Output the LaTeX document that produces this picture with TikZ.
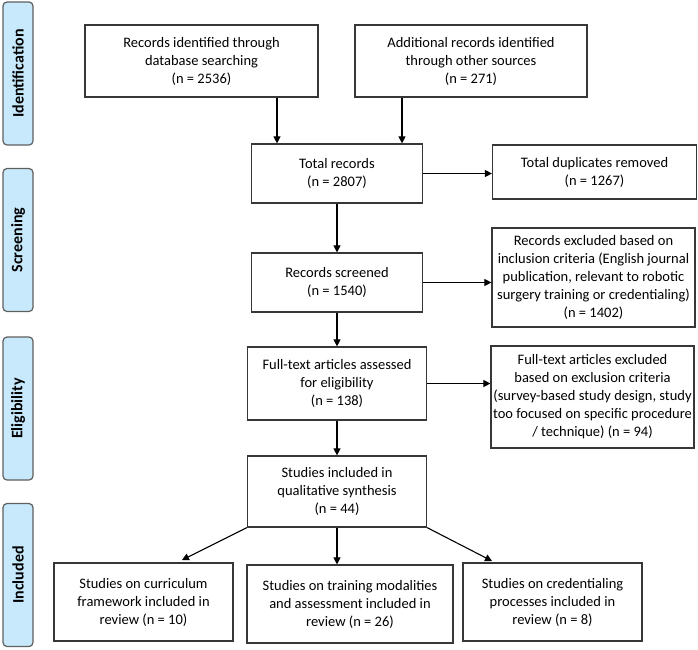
\documentclass[tikz,border=0pt]{standalone}
\usepackage{fontspec}
\setmainfont{Carlito}
\usepackage{xcolor}
\usetikzlibrary{arrows.meta}

\definecolor{phasefill}{RGB}{199,233,251}
\definecolor{boxline}{RGB}{55,55,55}

\tikzset{
	flowbox/.style={draw=boxline, line width=1.2pt, align=center, inner sep=2pt,
		font=\fontsize{14.5}{18}\selectfont},
	phase/.style={draw=boxline!80, fill=phasefill, line width=1.2pt, rounded corners=4pt,
		rotate=90, minimum width=143pt, minimum height=30pt, inner sep=0pt,
		font=\bfseries\fontsize{16}{18}\selectfont},
}

\begin{document}
\begin{tikzpicture}[x=1pt,y=-1pt]
		\useasboundingbox (0,0) rectangle (698,649);
		% phases
		\node[phase] (P1) at (18,73.5) {Identification};
		\node[phase] (P2) at (18,240) {Screening};
		\node[phase] (P3) at (18,408.5) {Eligibility};
		\node[phase] (P4) at (18,575) {Included};
		%
		\node[flowbox, minimum width=233pt, minimum height=72pt] (id1) at (201.5,61)
			{Records identified through\\database searching\\(n = 2536)};
		\node[flowbox, minimum width=232pt, minimum height=72pt] (id2) at (471,61)
			{Additional records identified\\through other sources\\(n = 271)};
		\node[flowbox, minimum width=171pt, minimum height=59pt] (total) at (337,173.5)
			{Total records\\(n = 2807)};
		\node[flowbox, minimum width=204pt, minimum height=54pt] (dup) at (594.5,172)
			{Total duplicates removed\\(n = 1267)};
		\node[flowbox, minimum width=171pt, minimum height=59pt] (screened) at (337,282.5)
			{Records screened\\(n = 1540)};
		\node[flowbox, minimum width=203pt, minimum height=99pt] (excl1) at (593.5,277.5)
			{Records excluded based on\\inclusion criteria (English journal\\publication, relevant to robotic\\surgery training or credentialing)\\(n = 1402)};
		\node[flowbox, minimum width=179pt, minimum height=73pt] (full) at (337,383.5)
			{Full-text articles assessed\\for eligibility\\(n = 138)};
		\node[flowbox, minimum width=203pt, minimum height=102pt] (excl2) at (592.5,397)
			{Full-text articles excluded\\based on exclusion criteria\\(survey-based study design, study\\too focused on specific procedure\\/ technique) (n = 94)};
		\node[flowbox, minimum width=179pt, minimum height=71pt] (incl) at (337,491.5)
			{Studies included in\\qualitative synthesis\\(n = 44)};
		\node[flowbox, minimum width=179pt, minimum height=78pt] (curr) at (143.5,602)
			{Studies on curriculum\\framework included in\\review (n = 10)};
		\node[flowbox, minimum width=206pt, minimum height=78pt] (train) at (350,604)
			{Studies on training modalities\\and assessment included in\\review (n = 26)};
		\node[flowbox, minimum width=179pt, minimum height=78pt] (cred) at (552.5,602)
			{Studies on credentialing\\processes included in\\review (n = 8)};
		%
		\coordinate (j1) at (277,0);
		\coordinate (j2) at (402,0);
		\coordinate (endcurr) at (182,560);
		\coordinate (endcred) at (492,561);
		%
		\path[->,>={Triangle[length=7pt,width=7pt]},line width=1.1pt]
		(id1.south -| j1) edge (total.north -| j1)
		(id2.south -| j2) edge (total.north -| j2)
		(total.east) edge (total.east -| dup.west)
		(total.south) edge (screened.north)
		(screened.east) edge (screened.east -| excl1.west)
		(screened.south) edge (full.north)
		(full.east) edge (full.east -| excl2.west)
		(full.south) edge (incl.north)
		(incl.south west) edge (endcurr)
		(incl.south) edge (incl.south |- train.north)
		(incl.south east) edge (endcred);
	\end{tikzpicture}
\end{document}
